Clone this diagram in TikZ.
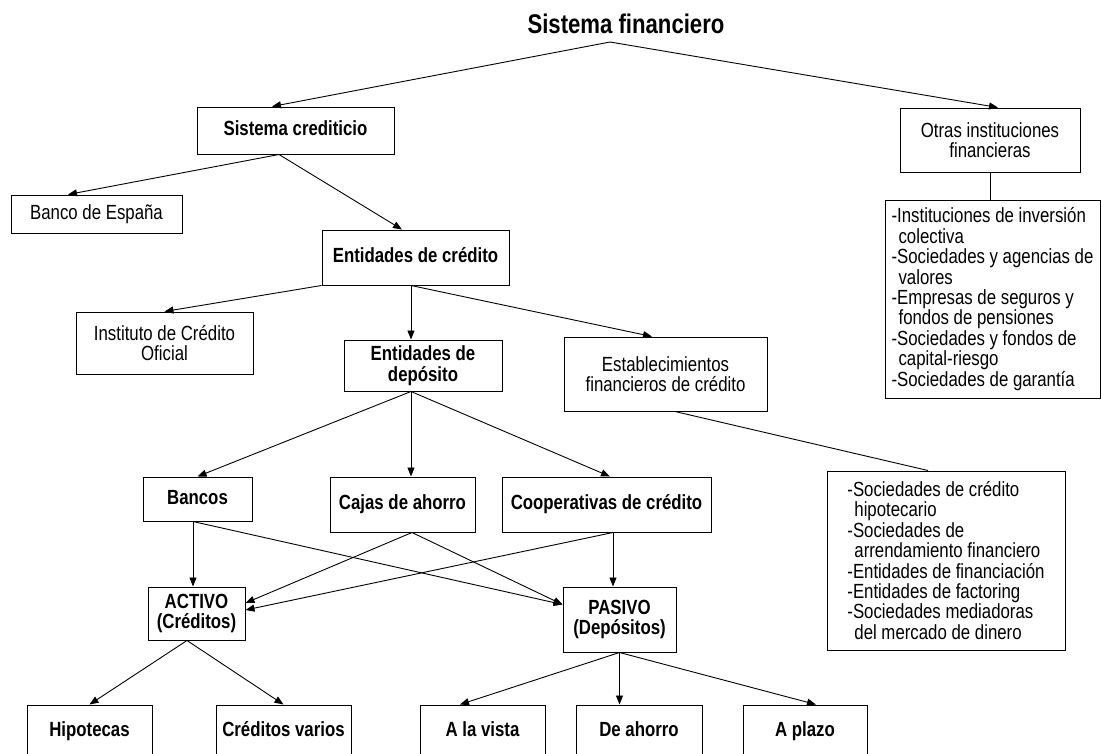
\documentclass[tikz,border=0pt]{standalone}
\usepackage{fontspec}
\setmainfont{Liberation Sans}[FakeStretch=0.82]
\usetikzlibrary{arrows.meta}
\newcommand{\listind}{\hspace*{7pt}}
\begin{document}
\begin{tikzpicture}[x=1pt, y=-1pt,
  font=\fontsize{20.5pt}{20.4pt}\selectfont,
  box/.style={draw, line width=1pt, inner sep=0pt, align=center},
  boldbox/.style={box, font=\fontsize{20.5pt}{20.4pt}\selectfont\bfseries},
  oneline/.style={text height=14.5pt, text depth=4.5pt},
  listbox/.style={box, align=left},
  arr/.style={-{Triangle[length=9pt,width=7pt]}, line width=0.9pt},
  lnk/.style={line width=0.9pt}]
  \useasboundingbox (0,0) rectangle (1101,753);
  \clip (0,0) rectangle (1101,753);
  \begin{scope}
    \node[font=\fontsize{27pt}{30pt}\selectfont\bfseries] (title) at (626,24) {Sistema financiero};
    \coordinate (root) at (610,42);

    \node[boldbox, oneline, minimum width=197pt, minimum height=47pt] (sc) at (295.5,130.5) {Sistema crediticio};
    \node[box, minimum width=180pt, minimum height=64pt] (otras) at (990,140) {Otras instituciones\\financieras};
    \node[box, oneline, minimum width=171pt, minimum height=38pt] (banco) at (96.5,214) {Banco de España};
    \node[boldbox, oneline, minimum width=187pt, minimum height=55pt] (ec) at (415.5,257.5) {Entidades de crédito};
    \node[box, minimum width=177pt, minimum height=62pt] (ico) at (164.5,343) {Instituto de Crédito\\Oficial};
    \node[boldbox, minimum width=158pt, minimum height=51pt] (ed) at (423,365.5) {Entidades de\\depósito};
    \node[box, minimum width=203pt, minimum height=74pt] (efc) at (665.5,374) {Establecimientos\\financieros de crédito};

    \node[listbox, minimum width=215pt, minimum height=198pt] (lst1) at (992.5,299) {-Instituciones de inversión\\\listind colectiva\\-Sociedades y agencias de\\\listind valores\\-Empresas de seguros y\\\listind fondos de pensiones\\-Sociedades y fondos de\\\listind capital-riesgo\\-Sociedades de garantía};
    \node[listbox, minimum width=238pt, minimum height=179pt] (lst2) at (946,560.5) {-Sociedades de crédito\\\listind hipotecario\\-Sociedades de\\\listind arrendamiento financiero\\-Entidades de financiación\\-Entidades de factoring\\-Sociedades mediadoras\\\listind del mercado de dinero};

    \node[boldbox, oneline, minimum width=109pt, minimum height=44pt] (bancos) at (197.5,499) {Bancos};
    \node[boldbox, oneline, minimum width=145pt, minimum height=55pt] (cajas) at (402.5,504.5) {Cajas de ahorro};
    \node[boldbox, oneline, minimum width=209pt, minimum height=55pt] (coop) at (606.5,504.5) {Cooperativas de crédito};
    \node[boldbox, minimum width=97pt, minimum height=53pt] (activo) at (196.5,613.5) {ACTIVO\\(Créditos)};
    \node[boldbox, minimum width=113pt, minimum height=65pt] (pasivo) at (619.5,619.5) {PASIVO\\(Depósitos)};

    \node[boldbox, oneline, minimum width=125pt, minimum height=52pt] (hip) at (89.5,731) {Hipotecas};
    \node[boldbox, oneline, minimum width=135pt, minimum height=52pt] (cv) at (283.5,731) {Créditos varios};
    \node[boldbox, oneline, minimum width=125pt, minimum height=52pt] (alv) at (482.5,731) {A la vista};
    \node[boldbox, oneline, minimum width=126pt, minimum height=52pt] (dah) at (639,731) {De ahorro};
    \node[boldbox, oneline, minimum width=124pt, minimum height=52pt] (apl) at (805,731) {A plazo};

    \draw[arr] (root) -- ([xshift=-23.5pt]sc.north);
    \draw[arr] (root) -- ([xshift=8pt]otras.north);
    \draw[arr] ([xshift=-16.5pt]sc.south) -- ([xshift=-28.5pt]banco.north);
    \draw[arr] ([xshift=-16.5pt]sc.south) -- ([xshift=-13.5pt]ec.north);
    \draw[arr] (ec.south west) -- (ico.north);
    \coordinate (ecb) at ([xshift=-4.5pt]ec.south);
    \draw[arr] (ecb) -- (ecb |- ed.north);
    \draw[arr] (ecb) -- ([xshift=-13.5pt]efc.north);
    \draw[lnk] ([xshift=9.5pt]efc.south) -- ([xshift=-18pt]lst2.north);
    \draw[lnk] (otras.south) -- (otras.south |- lst1.north);

    \coordinate (edb) at ([xshift=-12pt]ed.south);
    \draw[arr] (edb) -- (bancos.north);
    \draw[arr] (edb) -- (edb |- cajas.north);
    \draw[arr] (edb) -- ([xshift=3.5pt]coop.north);

    \coordinate (bab) at ([xshift=-4.5pt]bancos.south);
    \draw[arr] (bab) -- (bab |- activo.north);
    \draw[arr] (bab) -- ([yshift=15pt]pasivo.west);
    \coordinate (cab) at ([xshift=9.5pt]cajas.south);
    \draw[arr] (cab) -- ([yshift=10.5pt]activo.east);
    \draw[arr] (cab) -- ([yshift=15pt]pasivo.west);
    \coordinate (cob) at ([xshift=6.5pt]coop.south);
    \draw[arr] (cob) -- ([yshift=3.5pt]activo.east);
    \draw[arr] (cob) -- (cob |- pasivo.north);

    \coordinate (acb) at ([xshift=-9.5pt]activo.south);
    \draw[arr] (acb) -- (hip.north);
    \draw[arr] (acb) -- (cv.north);
    \draw[arr] (pasivo.south) -- ([xshift=-22.5pt]alv.north);
    \draw[arr] (pasivo.south) -- (pasivo.south |- dah.north);
    \draw[arr] (pasivo.south) -- ([xshift=11pt]apl.north);
  \end{scope}
\end{tikzpicture}
\end{document}
